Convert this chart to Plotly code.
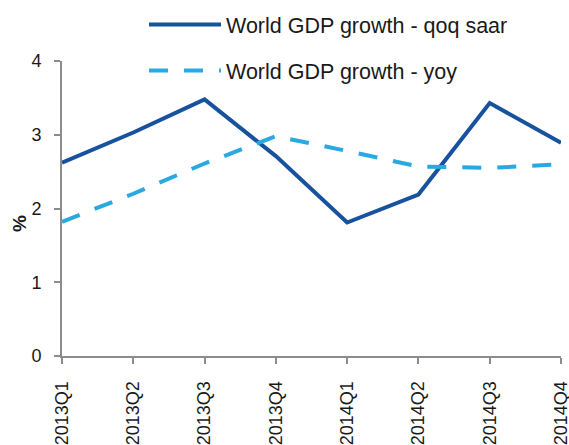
import plotly.graph_objects as go

quarters = ["2013Q1", "2013Q2", "2013Q3", "2013Q4", "2014Q1", "2014Q2", "2014Q3", "2014Q4"]
qoq_saar = [2.62, 3.03, 3.48, 2.71, 1.81, 2.19, 3.43, 2.89]
yoy = [1.82, 2.20, 2.61, 2.98, 2.78, 2.57, 2.55, 2.60]
y_ticks = [0, 1, 2, 3, 4]
y_title = "%"

W, H = 569, 445
L, R, T, B = 62, 561, 61, 356  # plot area in pixels

fig = go.Figure()
fig.add_trace(go.Scatter(
    x=quarters, y=qoq_saar, mode="lines", name="World GDP growth - qoq saar",
    line=dict(color="#17529F", width=4), legendgroup="a"))
fig.add_trace(go.Scatter(
    x=quarters, y=yoy, mode="lines", name="World GDP growth - yoy",
    line=dict(color="#2AA8E0", width=4, dash="19px,16px"), legendgroup="b"))

axis_color = "#8C8C8C"
fig.update_layout(
    width=W, height=H,
    margin=dict(l=0, r=0, t=0, b=0, autoexpand=False),
    paper_bgcolor="white", plot_bgcolor="white",
    font=dict(family="Liberation Sans, Arial", size=19, color="#1a1a1a"),
    showlegend=True,
    legend=dict(x=144 / W, y=1 - 4 / H, xanchor="left", yanchor="top",
                bgcolor="rgba(0,0,0,0)", itemwidth=72, tracegroupgap=15,
                font=dict(size=21.5)),
    xaxis=dict(type="category", range=[0, 7], domain=[L / W, R / W],
               showgrid=False, zeroline=False, automargin=False,
               showline=True, linecolor=axis_color, linewidth=2,
               ticks="outside", ticklen=6, tickcolor=axis_color, tickwidth=1.5,
               ticklabelstandoff=10,
               tickangle=-90, tickfont=dict(size=18)),
    yaxis=dict(range=[0, 4], tickvals=y_ticks, domain=[1 - B / H, 1 - T / H],
               showgrid=False, zeroline=False, automargin=False,
               showline=True, linecolor=axis_color, linewidth=2,
               ticks="outside", ticklen=6, tickcolor=axis_color, tickwidth=1.5,
               ticklabelstandoff=9,
               tickfont=dict(size=18)),
    annotations=[dict(text="<b>" + y_title + "</b>", xref="paper", yref="paper",
                      x=19 / W, y=1 - 224 / H, xanchor="center", yanchor="middle",
                      textangle=-90, showarrow=False, font=dict(size=19))],
)

fig.write_html("out.html", config={"displayModeBar": False},
               post_script="document.body.style.margin='0';")
